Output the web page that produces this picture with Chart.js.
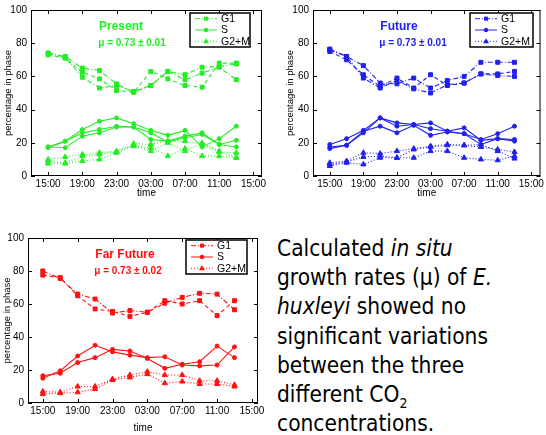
<!DOCTYPE html>
<html>
<head>
<meta charset="utf-8">
<script src="https://cdn.jsdelivr.net/npm/chart.js@4/dist/chart.umd.min.js"></script>
<style>
  body { margin: 0; background: #fff; width: 546px; height: 435px; overflow: hidden; position: relative; }
  .panel { position: absolute; }
  #note {
    position: absolute; left: 277px; top: 234px;
    font-family: "DejaVu Sans Condensed", "DejaVu Sans", Verdana, sans-serif; font-size: 22.5px; line-height: 29.2px;
    color: #000; white-space: nowrap;
  }
  #note sub { font-size: 14px; line-height: 0; }
</style>
</head>
<body>
<div class="panel" style="left:0;top:0;width:273px;height:200px"><canvas id="present"></canvas></div>
<div class="panel" style="left:273px;top:0;width:273px;height:200px"><canvas id="future"></canvas></div>
<div class="panel" style="left:0;top:225px;width:273px;height:210px"><canvas id="farFuture"></canvas></div>
<div id="note">
Calculated <i>in situ</i><br>
growth rates (μ) of <i>E.</i><br>
<i>huxleyi</i> showed no<br>
significant variations<br>
between the three<br>
different CO<sub>2</sub><br>
concentrations.
</div>
<script>
// hours after 15:00, samples every 2 h
const hours = [0, 2, 4, 6, 8, 10, 12, 14, 16, 18, 20, 22];
const xTickHours = [0, 4, 8, 12, 16, 20, 24];
const xTickLabels = ['15:00', '19:00', '23:00', '03:00', '07:00', '11:00', '15:00'];
const yTicks = [0, 20, 40, 60, 80, 100];
const phaseNames = ['G1', 'S', 'G2+M'];

// Present (3 replicates)
const presentG1 = [
  [74, 72, 65, 63.5, 55.5, 50.5, 54.5, 63, 61, 65.5, 66, 67.5],
  [73, 71, 62.5, 58.5, 51.5, 50.5, 63, 58.5, 54.5, 53.5, 68, 68],
  [74, 71.5, 59.5, 53, 54.5, 51, 54.5, 63, 58, 62, 65.5, 58]
];
const presentS = [
  [17.5, 21, 28, 33, 35, 31.5, 27.5, 24.5, 27.5, 17.5, 22.5, 30],
  [17, 21, 26, 28, 30, 29.5, 26, 20.5, 23, 25, 19, 21.5],
  [17.5, 17, 24, 26, 29.5, 29.5, 22, 21, 24, 26, 19, 17.5]
];
const presentG2M = [
  [10, 11.5, 13, 14, 15, 19.5, 19, 21, 21, 19, 14.5, 14],
  [9, 8, 12, 13, 14.5, 18.5, 17, 12, 16.5, 12, 12, 11],
  [7.5, 7.5, 9, 10, 14, 18, 15, 20, 15, 20, 15, 11]
];

// Future (3 replicates)
const futureG1 = [
  [76, 72, 66.5, 56, 55.5, 59, 53, 57.5, 60, 68.5, 68.5, 68.5],
  [75, 70, 61, 54, 59, 53, 61, 54.5, 56, 61.5, 61.5, 63],
  [76.5, 72, 59, 53, 57.5, 52.5, 50, 55, 56, 61.5, 60.5, 60]
];
const futureS = [
  [19, 22.5, 27.5, 35, 32, 31, 32, 27, 25.5, 22, 25.5, 30],
  [17.5, 18.5, 26, 35, 30, 31, 28.5, 27, 29, 21.5, 22.5, 22],
  [16.5, 18.5, 27, 30, 26, 30.5, 24.5, 26.5, 25.5, 19, 22.5, 21]
];
const futureG2M = [
  [8, 9, 14, 13.5, 15, 16.5, 18, 19, 18.5, 17.5, 16, 14.5],
  [7, 8.5, 11.5, 12, 11, 16, 17.5, 18.5, 18.5, 19, 15, 10.5],
  [6, 8, 7, 11, 11, 11, 15, 15, 11, 10, 9.5, 12]
];

// Far Future (2 replicates)
const farG1 = [
  [80, 75.5, 66, 63, 54.5, 56, 55, 60.5, 64, 66.5, 66, 56.5],
  [77.5, 76, 65, 57, 55.5, 52.5, 55, 62, 60, 62, 53, 62]
];
const farS = [
  [15, 19.5, 28.5, 35, 31, 29, 27.5, 28, 23, 22.5, 23, 34],
  [16.5, 18, 24.5, 27.5, 32.5, 31.5, 27, 21, 23.5, 25, 34.5, 27.5]
];
const farG2M = [
  [7, 6.5, 10, 10, 14.5, 17, 19, 17, 17, 13.5, 13.5, 11],
  [5.5, 6, 6.5, 8.5, 14, 15.5, 17.5, 12, 13, 11.5, 11.5, 10]
];

const FONT = '"Liberation Sans", Arial, sans-serif';
const phaseStyle = [
  { marker: 'rect', radius: 2.8, dashes: [[5, 2, 1, 2], [4, 3], [5, 2, 1, 2]] },
  { marker: 'circle', radius: 2, dashes: [[], [], []] },
  { marker: 'triangle', radius: 3, dashes: [[1, 2], [1, 2], [1, 2]] }
];

function makeDatasets(color, phases) {
  let sets = [];
  phases.forEach((reps, p) => {
    reps.forEach((vals, r) => {
      sets.push({
        label: phaseNames[p] + ' ' + (r + 1),
        data: hours.map((h, i) => ({ x: h, y: vals[i] })),
        borderColor: color,
        backgroundColor: color,
        borderWidth: 1.1,
        borderDash: phaseStyle[p].dashes[r],
        pointStyle: phaseStyle[p].marker,
        pointRadius: phaseStyle[p].radius,
        pointBorderWidth: 1,
        tension: 0
      });
    });
  });
  return sets;
}

// frame, inward ticks, y labels, title text and boxed legend (MATLAB look)
const matlabLook = {
  id: 'matlabLook',
  afterDraw(chart, args, opts) {
    let c = chart.ctx, a = chart.chartArea;
    let xs = chart.scales.x, ys = chart.scales.y;
    c.save();
    c.strokeStyle = '#000';
    c.lineWidth = 1;
    c.strokeRect(a.left + 0.5, a.top + 0.5, a.right - a.left - 1, a.bottom - a.top - 1);
    c.beginPath();
    xTickHours.forEach(h => {
      let px = Math.round(xs.getPixelForValue(h)) + 0.5;
      c.moveTo(px, a.bottom); c.lineTo(px, a.bottom - 4);
      c.moveTo(px, a.top); c.lineTo(px, a.top + 4);
    });
    yTicks.forEach(v => {
      let py = Math.round(ys.getPixelForValue(v)) + 0.5;
      c.moveTo(a.left, py); c.lineTo(a.left + 4, py);
      c.moveTo(a.right, py); c.lineTo(a.right - 4, py);
    });
    c.stroke();

    // y tick labels and y title
    c.fillStyle = '#000';
    c.font = '10px ' + FONT;
    c.textAlign = 'right';
    c.textBaseline = 'middle';
    yTicks.forEach(v => c.fillText(String(v), a.left - 4, ys.getPixelForValue(v)));
    c.save();
    c.translate(opts.yTitleX, (a.top + a.bottom) / 2);
    c.rotate(-Math.PI / 2);
    c.textAlign = 'center';
    c.font = '9.5px ' + FONT;
    c.fillText('percentage in phase', 0, 0);
    c.restore();

    // title + growth rate
    c.fillStyle = opts.color;
    c.textAlign = 'center';
    c.textBaseline = 'middle';
    c.font = 'bold 12px ' + FONT;
    c.fillText(opts.title, opts.titleX, opts.titleY);
    c.font = 'bold 10px ' + FONT;
    c.fillText(opts.mu, opts.muX, opts.muY);

    // legend
    let L = opts.legend;
    c.fillStyle = '#fff';
    c.fillRect(L.x, L.y, L.w, L.h);
    c.lineWidth = 1.5;
    c.strokeStyle = '#000';
    c.strokeRect(L.x, L.y, L.w, L.h);
    c.font = '10.5px ' + FONT;
    c.textAlign = 'left';
    let rowH = L.h / 3;
    phaseNames.forEach((name, p) => {
      let ds = chart.data.datasets.find(d => d.label.startsWith(name + ' '));
      let yy = L.y + rowH * (p + 0.5);
      c.strokeStyle = opts.color;
      c.lineWidth = 1;
      c.setLineDash(ds.borderDash);
      c.beginPath();
      c.moveTo(L.x + 5, yy); c.lineTo(L.x + 27, yy);
      c.stroke();
      c.setLineDash([]);
      c.fillStyle = opts.color;
      let mx = L.x + 16;
      if (ds.pointStyle === 'rect') c.fillRect(mx - 2, yy - 2, 4, 4);
      else if (ds.pointStyle === 'circle') { c.beginPath(); c.arc(mx, yy, 2.2, 0, Math.PI * 2); c.fill(); }
      else { c.beginPath(); c.moveTo(mx, yy - 3); c.lineTo(mx + 3, yy + 2); c.lineTo(mx - 3, yy + 2); c.closePath(); c.fill(); }
      c.fillStyle = '#000';
      c.fillText(name, L.x + 31, yy + 0.5);
    });
    c.restore();
  }
};

function makeChart(id, color, phases, xMin, xMax, yAxisW, xAxisH, pad, look) {
  return new Chart(document.getElementById(id), {
    type: 'line',
    data: { datasets: makeDatasets(color, phases) },
    options: {
      responsive: true,
      maintainAspectRatio: false,
      animation: false,
      layout: { padding: pad },
      plugins: { legend: { display: false }, tooltip: { enabled: false }, matlabLook: Object.assign({ color: color }, look) },
      scales: {
        x: {
          type: 'linear', min: xMin, max: xMax,
          afterBuildTicks: s => { s.ticks = xTickHours.map(v => ({ value: v })); },
          afterFit: s => { s.height = xAxisH; },
          grid: { display: false, drawTicks: false, tickLength: 0 },
          border: { display: false },
          ticks: { color: '#000', font: { family: FONT, size: 10 }, padding: 2, maxRotation: 0,
                   callback: (v) => xTickLabels[xTickHours.indexOf(v)] },
          title: { display: true, text: 'time', color: '#000', font: { family: FONT, size: 10 }, padding: { top: 0, bottom: 1 } }
        },
        y: {
          min: 0, max: 100,
          afterBuildTicks: s => { s.ticks = yTicks.map(v => ({ value: v })); },
          afterFit: s => { s.width = yAxisW; },
          grid: { display: false, drawTicks: false },
          border: { display: false },
          ticks: { display: false },
          title: { display: false }
        }
      }
    },
    plugins: [matlabLook]
  });
}

makeChart('present', '#22ee22', [presentG1, presentS, presentG2M], -2, 25, 31, 24,
  { top: 10, right: 11, left: 0, bottom: 0 },
  { title: 'Present', titleX: 121, titleY: 27, mu: 'μ = 0.73 ± 0.01', muX: 132, muY: 43,
    yTitleX: 8, legend: { x: 190, y: 13, w: 60, h: 34 } });

makeChart('future', '#2020f0', [futureG1, futureS, futureG2M], -2, 25.1, 40, 24,
  { top: 10, right: 4, left: 0, bottom: 0 },
  { title: 'Future', titleX: 126, titleY: 27, mu: 'μ = 0.73 ± 0.01', muX: 140, muY: 43,
    yTitleX: 17, legend: { x: 197, y: 13, w: 63, h: 34 } });

makeChart('farFuture', '#ff1010', [farG1, farS, farG2M], -1.7, 24.7, 28, 32,
  { top: 13, right: 15, left: 0, bottom: 0 },
  { title: 'Far Future', titleX: 125, titleY: 30, mu: 'μ = 0.73 ± 0.02', muX: 128, muY: 46,
    yTitleX: 7, legend: { x: 186, y: 15, w: 61, h: 34 } });
</script>
</body>
</html>
